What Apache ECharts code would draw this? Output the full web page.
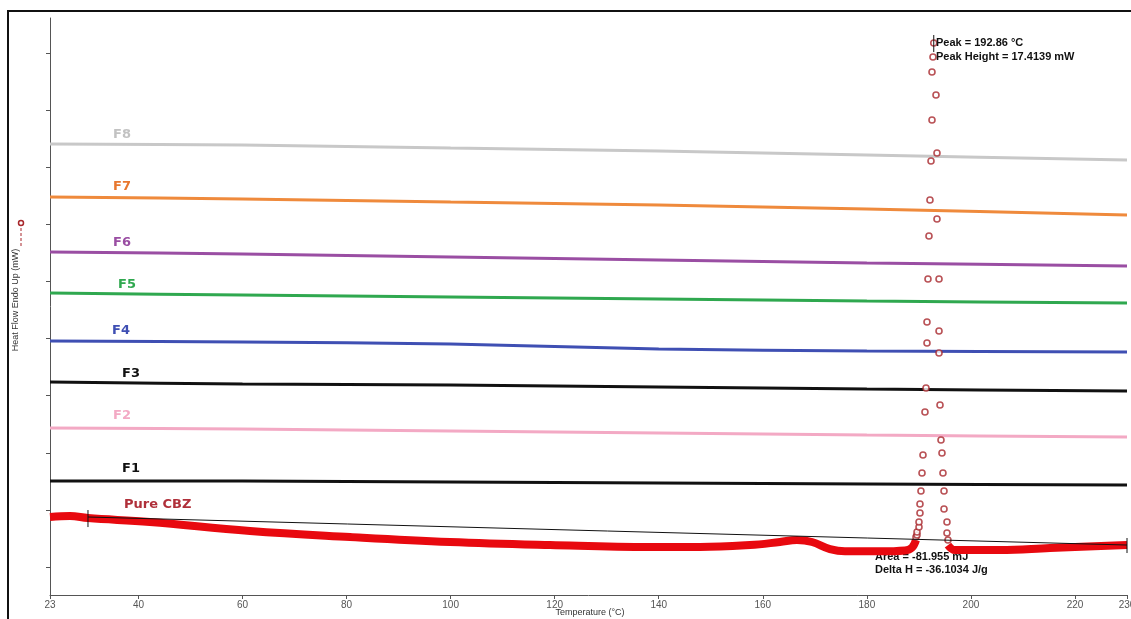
<!DOCTYPE html>
<html>
<head>
<meta charset="utf-8">
<script src="https://cdn.jsdelivr.net/npm/echarts@6/dist/echarts.min.js"></script>
<style>html,body{margin:0;padding:0;background:#fff}#c{width:1131px;height:619px}</style>
</head>
<body>
<div id="c"></div>
<script>
// ---- data (temperature °C, heat flow in arbitrary offset units) ----
const lineT = [23, 60, 100, 140, 180, 230];
const f8 = [7.408, 7.391, 7.338, 7.285, 7.215, 7.128];
const f7 = [6.480, 6.447, 6.392, 6.340, 6.270, 6.165];
const f6 = [5.517, 5.482, 5.429, 5.377, 5.324, 5.271];
const f5 = [4.799, 4.764, 4.729, 4.694, 4.658, 4.623];
const f4 = [3.958, 3.940, 3.905, 3.818, 3.783, 3.765];
const f3 = [3.240, 3.205, 3.187, 3.152, 3.117, 3.082];
const f2 = [2.434, 2.417, 2.382, 2.347, 2.312, 2.277];
const f1 = [1.506, 1.506, 1.489, 1.471, 1.454, 1.436];

const cbzT = [23, 26.84, 30.30, 42.22, 61.44, 80.66, 99.88, 119.10, 138.32, 147.93, 157.54, 163.30, 166.57, 169.46, 172.91, 175.80, 182.52, 187.33, 188.67, 189.44, null, 195.59, 196.94, 205.59, 215.20, 230];
const cbzV = [0.876, 0.893, 0.858, 0.788, 0.630, 0.525, 0.438, 0.385, 0.350, 0.350, 0.385, 0.438, 0.473, 0.438, 0.315, 0.275, 0.275, 0.290, 0.340, 0.473, null, 0.385, 0.298, 0.298, 0.333, 0.385];

const peakT = [189.44, 189.64, 189.64, 190.02, 190.02, 190.21, 190.21, 190.40, 190.60, 190.79, 191.17, 191.37, 191.56, 191.56, 191.75, 191.94, 192.13, 192.33, 192.52, 192.52, 192.71, 192.86,
               193.29, 193.48, 193.48, 193.87, 193.87, 193.87, 194.06, 194.25, 194.44, 194.63, 194.83, 194.83, 195.40, 195.40, 195.59];
const peakV = [0.525, 0.560, 0.613, 0.700, 0.788, 0.946, 1.103, 1.331, 1.646, 1.961, 2.715, 3.135, 3.923, 4.291, 5.044, 5.797, 6.427, 7.110, 7.828, 8.669, 8.932, 9.177,
               8.266, 7.250, 6.095, 5.044, 4.133, 3.748, 2.837, 2.224, 1.997, 1.646, 1.331, 1.016, 0.788, 0.595, 0.473];

const baseT = [30.30, 230];
const baseV = [0.876, 0.385];

const xTicks = [23, 40, 60, 80, 100, 120, 140, 160, 180, 200, 220, 230];
const yTicks = [0, 1, 2, 3, 4, 5, 6, 7, 8, 9];

const zip = (a, b) => a.map((t, i) => [t, b[i]]);

function fLine(name, vals, color) {
  return {
    name, type: 'line', data: zip(lineT, vals), showSymbol: false, smooth: 0.3,
    lineStyle: { color, width: 3 }, z: 3, animation: false
  };
}
function tickSeg(t, v0, v1) {
  return { type: 'line', data: [[t, v0], [t, v1]], showSymbol: false, lineStyle: { color: '#111', width: 1 }, z: 6, animation: false };
}

const chart = echarts.init(document.getElementById('c'), null, { renderer: 'canvas' });
const lblFont = 'bold 13px "DejaVu Sans", Verdana, sans-serif';
function lbl(x, y, text, color) {
  return { type: 'text', left: x, top: y, style: { text, fill: color, font: lblFont }, z: 10 };
}
chart.setOption({
  backgroundColor: '#fff',
  animation: false,
  grid: { left: 50, right: 4, top: 18, bottom: 24, containLabel: false, outerBoundsMode: 'none' },
  xAxis: {
    type: 'value', min: 23, max: 230,
    axisLine: { onZero: false, lineStyle: { color: '#555', width: 1 } },
    axisTick: { show: true, length: 4, lineStyle: { color: '#555' }, customValues: xTicks },
    axisLabel: { fontSize: 10, color: '#555', margin: 5, fontFamily: 'Liberation Sans, Arial', customValues: xTicks },
    splitLine: { show: false }
  },
  yAxis: {
    type: 'value', min: -0.49, max: 9.615,
    axisLine: { show: true, onZero: false, lineStyle: { color: '#555', width: 1 } },
    axisTick: { show: true, length: 4, lineStyle: { color: '#555' }, customValues: yTicks },
    axisLabel: { show: false },
    splitLine: { show: false }
  },
  series: [
    fLine('F8', f8, '#c8c8c8'),
    fLine('F7', f7, '#ef8a3c'),
    fLine('F6', f6, '#9a4ea3'),
    fLine('F5', f5, '#2fa84f'),
    fLine('F4', f4, '#3f4fb3'),
    fLine('F3', f3, '#111111'),
    fLine('F2', f2, '#f3a9c4'),
    fLine('F1', f1, '#111111'),
    {
      name: 'Pure CBZ', type: 'line', data: zip(cbzT, cbzV), showSymbol: false, smooth: 0.4, connectNulls: false,
      lineStyle: { color: '#e8090f', width: 8 }, z: 4, animation: false
    },
    {
      name: 'Pure CBZ peak', type: 'scatter', data: zip(peakT, peakV), symbol: 'circle', symbolSize: 6,
      itemStyle: { color: '#ffffff', borderColor: '#a8272c', borderWidth: 1.6 }, z: 5, animation: false
    },
    {
      name: 'baseline', type: 'line', data: zip(baseT, baseV), showSymbol: false,
      lineStyle: { color: '#111', width: 1 }, z: 6, animation: false
    },
    tickSeg(30.30, 0.998, 0.700),
    tickSeg(230, 0.508, 0.245),
    tickSeg(192.86, 9.317, 9.019)
  ],
  graphic: [
    { type: 'rect', shape: { x: 8, y: 11, width: 1200, height: 700 }, style: { fill: 'none', stroke: '#111', lineWidth: 2 }, z: 0, silent: true },
    lbl(113, 128, 'F8', '#c2c2c2'),
    lbl(113, 180, 'F7', '#e8772e'),
    lbl(113, 236, 'F6', '#9a4ea3'),
    lbl(118, 278, 'F5', '#2fa84f'),
    lbl(112, 324, 'F4', '#3f4fb3'),
    lbl(122, 367, 'F3', '#111111'),
    lbl(113, 409, 'F2', '#f3a9c4'),
    lbl(122, 462, 'F1', '#111111'),
    lbl(124, 498, 'Pure CBZ', '#b0303a'),
    { type: 'text', left: 936, top: 37, style: { text: 'Peak = 192.86 °C', fill: '#111', font: 'bold 11px "Liberation Sans", Arial, sans-serif' }, z: 10 },
    { type: 'text', left: 936, top: 51, style: { text: 'Peak Height = 17.4139 mW', fill: '#111', font: 'bold 11px "Liberation Sans", Arial, sans-serif' }, z: 10 },
    { type: 'text', left: 875, top: 551, style: { text: 'Area = -81.955 mJ', fill: '#111', font: 'bold 11px "Liberation Sans", Arial, sans-serif' }, z: 3 },
    { type: 'text', left: 875, top: 564, style: { text: 'Delta H = -36.1034 J/g', fill: '#111', font: 'bold 11px "Liberation Sans", Arial, sans-serif' }, z: 10 },
    { type: 'text', x: 590, y: 613, style: { text: 'Temperature (°C)', fill: '#333', font: '9px "Liberation Sans", Arial, sans-serif', align: 'center', verticalAlign: 'middle' }, z: 10 },
    { type: 'text', x: 16, y: 300, rotation: Math.PI / 2, style: { text: 'Heat Flow Endo Up (mW)', fill: '#333', font: '9px "Liberation Sans", Arial, sans-serif', align: 'center', verticalAlign: 'middle' }, z: 10 },
    { type: 'line', shape: { x1: 21, y1: 228, x2: 21, y2: 246 }, style: { stroke: '#a8272c', lineWidth: 1, lineDash: [3, 2] }, z: 10 },
    { type: 'circle', shape: { cx: 21, cy: 223, r: 2.5 }, style: { fill: '#fff', stroke: '#a8272c', lineWidth: 1.5 }, z: 10 }
  ]
});
</script>
</body>
</html>
